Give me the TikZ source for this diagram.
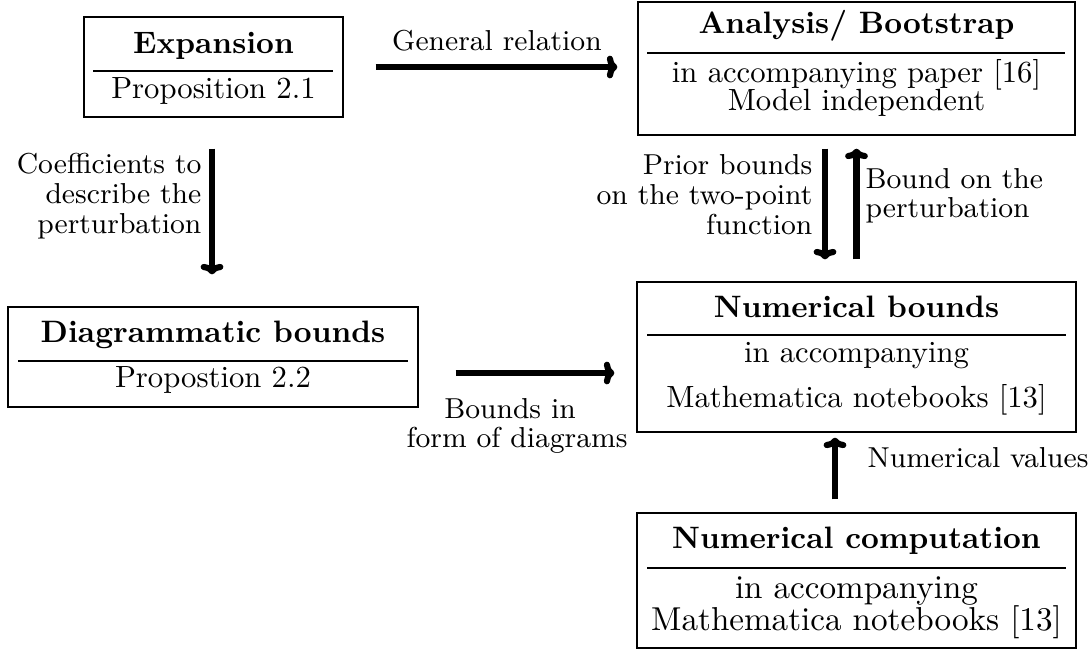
\documentclass[tikz,border=0pt]{standalone}
\usetikzlibrary{arrows.meta,calc,fit}
\begin{document}
\begin{tikzpicture}[x=0.326pt,y=-0.326pt,
 box/.style={draw,line width=0.45pt,inner sep=0pt},
 rulel/.style={line width=0.45pt},
 arr/.style={line width=2pt,-{To[length=3.4pt,width=7.4pt]}},
 ttl/.style={font=\fontsize{10.1}{12}\selectfont\bfseries,inner sep=0pt,anchor=base},
 bdy/.style={font=\fontsize{10}{12}\selectfont,inner sep=0pt,anchor=base},
 bdyL/.style={font=\fontsize{10.8}{13}\selectfont,inner sep=0pt,anchor=base},
 lbl/.style={font=\fontsize{9.4}{11}\selectfont,inner sep=0pt},
]
\useasboundingbox (0,0) rectangle (1088,653);

% Expansion
\node[box,fit={(84,17)(343,117)}] (exp) {};
\node[ttl] (expT) at (213.5,53) {Expansion};
\draw[rulel] (93,71) -- (333,71);
\node[bdy] (expB) at (213.5,98) {Proposition 2.1};

% Analysis
\node[box,fit={(638,2)(1075,135)}] (ana) {};
\node[ttl] (anaT) at (856.5,33) {Analysis/ Bootstrap};
\draw[rulel] (647,53) -- (1065,53);
\node[bdy] (anaB1) at (856.5,82) {in accompanying paper [16]};
\node[bdy] (anaB2) at (856.5,110) {Model independent};

% Diagrammatic
\node[box,fit={(8,307)(418,407)}] (diag) {};
\node[ttl] (diagT) at (213,342) {Diagrammatic bounds};
\draw[rulel] (18,361) -- (408,361);
\node[bdy] (diagB) at (213,387) {Propostion 2.2};

% Numerical bounds
\node[box,fit={(637,282)(1076,432)}] (nb) {};
\node[ttl] (nbT) at (856.5,317) {Numerical bounds};
\draw[rulel] (647,335) -- (1066,335);
\node[bdy] (nbB1) at (856.5,362) {in accompanying};
\node[bdy] (nbB2) at (856.5,407) {Mathematica notebooks [13]};

% Numerical computation
\node[box,fit={(637,513)(1076,648)}] (nc) {};
\node[ttl] (ncT) at (856.5,548) {Numerical computation};
\draw[rulel] (647,568) -- (1066,568);
\node[bdyL] (ncB1) at (856.5,598) {in accompanying};
\node[bdyL] (ncB2) at (856.5,630) {Mathematica notebooks [13]};

% Arrows
\draw[arr] ($(exp.east)+(32,0)$) -- ($(exp.east -| ana.west)+(-20,0)$);
\draw[arr] ($(exp.south)+(-1.5,31)$) -- ($(exp.south |- diag.north)+(-1.5,-32)$);
\draw[arr] ($(ana.south)+(-31.5,13)$) -- ($(ana.south |- nb.north)+(-31.5,-22)$);
\draw[arr] ($(nb.north)+(0,-22)$) -- ($(nb.north |- ana.south)+(0,13)$);
\draw[arr] ($(diag.east)+(37,16)$) -- ($(diag.east -| nb.west)+(-22,16)$);
\draw[arr] ($(nc.north)+(-21.5,-13)$) -- ($(nc.north |- nb.south)+(-21.5,5)$);

% Labels
\node[lbl,anchor=base] (lGR) at (497,50) {General relation};
\node[lbl,anchor=base east] (lC1) at (202,173) {Coefficients to};
\node[lbl,anchor=base east] (lC2) at (202,203) {describe the};
\node[lbl,anchor=base east] (lC3) at (202,233) {perturbation};
\node[lbl,anchor=base east] (lP1) at (813,174) {Prior bounds};
\node[lbl,anchor=base east] (lP2) at (813,204) {on the two-point};
\node[lbl,anchor=base east] (lP3) at (813,234) {function};
\node[lbl,anchor=base west] (lB1) at (865,188) {Bound on the};
\node[lbl,anchor=base west] (lB2) at (865,217) {perturbation};
\node[lbl,anchor=base] (lD1) at (510,418) {Bounds in};
\node[lbl,anchor=base] (lD2) at (517,447) {form of diagrams};
\node[lbl,anchor=base west] (lN) at (867,467) {Numerical values};
\end{tikzpicture}
\end{document}
